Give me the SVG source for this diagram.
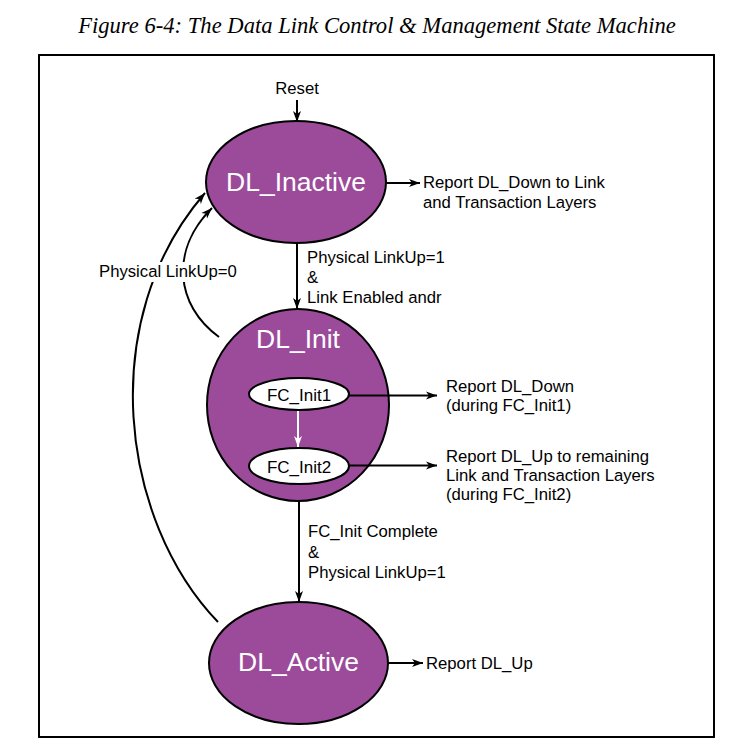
<svg xmlns="http://www.w3.org/2000/svg" width="734" height="749" viewBox="0 0 734 749">
<style>
.lbl{font-family:"Liberation Sans",Arial,sans-serif;font-size:16.7px;fill:#000}
.st{fill:#9C4A9A;stroke:#000;stroke-width:2}
.sub{fill:#fff;stroke:#000;stroke-width:2}
.stname{font-family:"Liberation Sans",Arial,sans-serif;font-size:26.5px;fill:#fff;text-anchor:middle}
.subname{font-family:"Liberation Sans",Arial,sans-serif;font-size:17px;fill:#000;text-anchor:middle}
.c{fill:none;stroke:#000;stroke-width:2}
.cw{fill:none;stroke:#fff;stroke-width:2}
</style>
<defs>
<marker id="ah" markerUnits="userSpaceOnUse" markerWidth="12" markerHeight="9" refX="11" refY="4" orient="auto" viewBox="0 0 12 8">
<path d="M0,0 L11,4 L0,8 L3,4 Z" fill="#000"/>
</marker>
<marker id="ahw" markerUnits="userSpaceOnUse" markerWidth="12" markerHeight="9" refX="11" refY="4" orient="auto" viewBox="0 0 12 8">
<path d="M0,0 L11,4 L0,8 L3,4 Z" fill="#fff"/>
</marker>
</defs>
<rect width="734" height="749" fill="#fff"/>
<text x="377" y="33" text-anchor="middle" font-family="'Liberation Serif','Times New Roman',serif" font-style="italic" font-size="22.6px">Figure 6-4: The Data Link Control &amp; Management State Machine</text>
<rect x="39" y="55" width="675" height="682" fill="none" stroke="#000" stroke-width="2"/>

<g id="connectors">
<path class="c" d="M297,100 L297,122" marker-end="url(#ah)"/>
<path class="c" d="M386,183 L420,183" marker-end="url(#ah)"/>
<path class="c" d="M297,243 L297,309" marker-end="url(#ah)"/>
<path class="c" d="M299,502 L299,602" marker-end="url(#ah)"/>
<path class="c" d="M388,663 L423,663" marker-end="url(#ah)"/>
<path class="c" d="M218,622 C120,520 95,320 205,193" marker-end="url(#ah)"/>
<path class="c" d="M219,337 C175,305 170,250 212,208" marker-end="url(#ah)"/>
</g>

<g id="DL_Inactive">
<ellipse class="st" cx="296" cy="182" rx="90" ry="61"/>
<text class="stname" x="296" y="191">DL_Inactive</text>
</g>

<g id="DL_Init">
<ellipse class="st" cx="298" cy="405" rx="91" ry="96"/>
<text class="stname" x="298" y="348">DL_Init</text>
</g>

<g id="subconnectors">
<path class="c" d="M349,395.5 L437,395.5" marker-end="url(#ah)"/>
<path class="c" d="M349,465.5 L437,465.5" marker-end="url(#ah)"/>
<path class="cw" d="M298,411 L298,447" marker-end="url(#ahw)"/>
</g>

<g id="FC_Init1">
<ellipse class="sub" cx="299" cy="394" rx="50" ry="16"/>
<text class="subname" x="299" y="400.5">FC_Init1</text>
</g>

<g id="FC_Init2">
<ellipse class="sub" cx="299" cy="466" rx="50" ry="18"/>
<text class="subname" x="299" y="472.5">FC_Init2</text>
</g>

<g id="DL_Active">
<ellipse class="st" cx="298.5" cy="663" rx="89.5" ry="61"/>
<text class="stname" x="298.5" y="671">DL_Active</text>
</g>

<g id="labels">
<text class="lbl" x="297" y="94" text-anchor="middle">Reset</text>
<text class="lbl" x="423" y="188">Report DL_Down to Link</text>
<text class="lbl" x="423" y="208">and Transaction Layers</text>
<text class="lbl" x="307" y="263">Physical LinkUp=1</text>
<text class="lbl" x="307" y="283">&amp;</text>
<text class="lbl" x="307" y="303">Link Enabled andr</text>
<rect x="97" y="262" width="142" height="20" fill="#fff"/>
<text class="lbl" x="99" y="277">Physical LinkUp=0</text>
<text class="lbl" x="446" y="392">Report DL_Down</text>
<text class="lbl" x="446" y="411">(during FC_Init1)</text>
<text class="lbl" x="446" y="462">Report DL_Up to remaining</text>
<text class="lbl" x="446" y="481">Link and Transaction Layers</text>
<text class="lbl" x="446" y="500">(during FC_Init2)</text>
<text class="lbl" x="308" y="537">FC_Init Complete</text>
<text class="lbl" x="308" y="558">&amp;</text>
<text class="lbl" x="308" y="578">Physical LinkUp=1</text>
<text class="lbl" x="426" y="669">Report DL_Up</text>
</g>
</svg>
